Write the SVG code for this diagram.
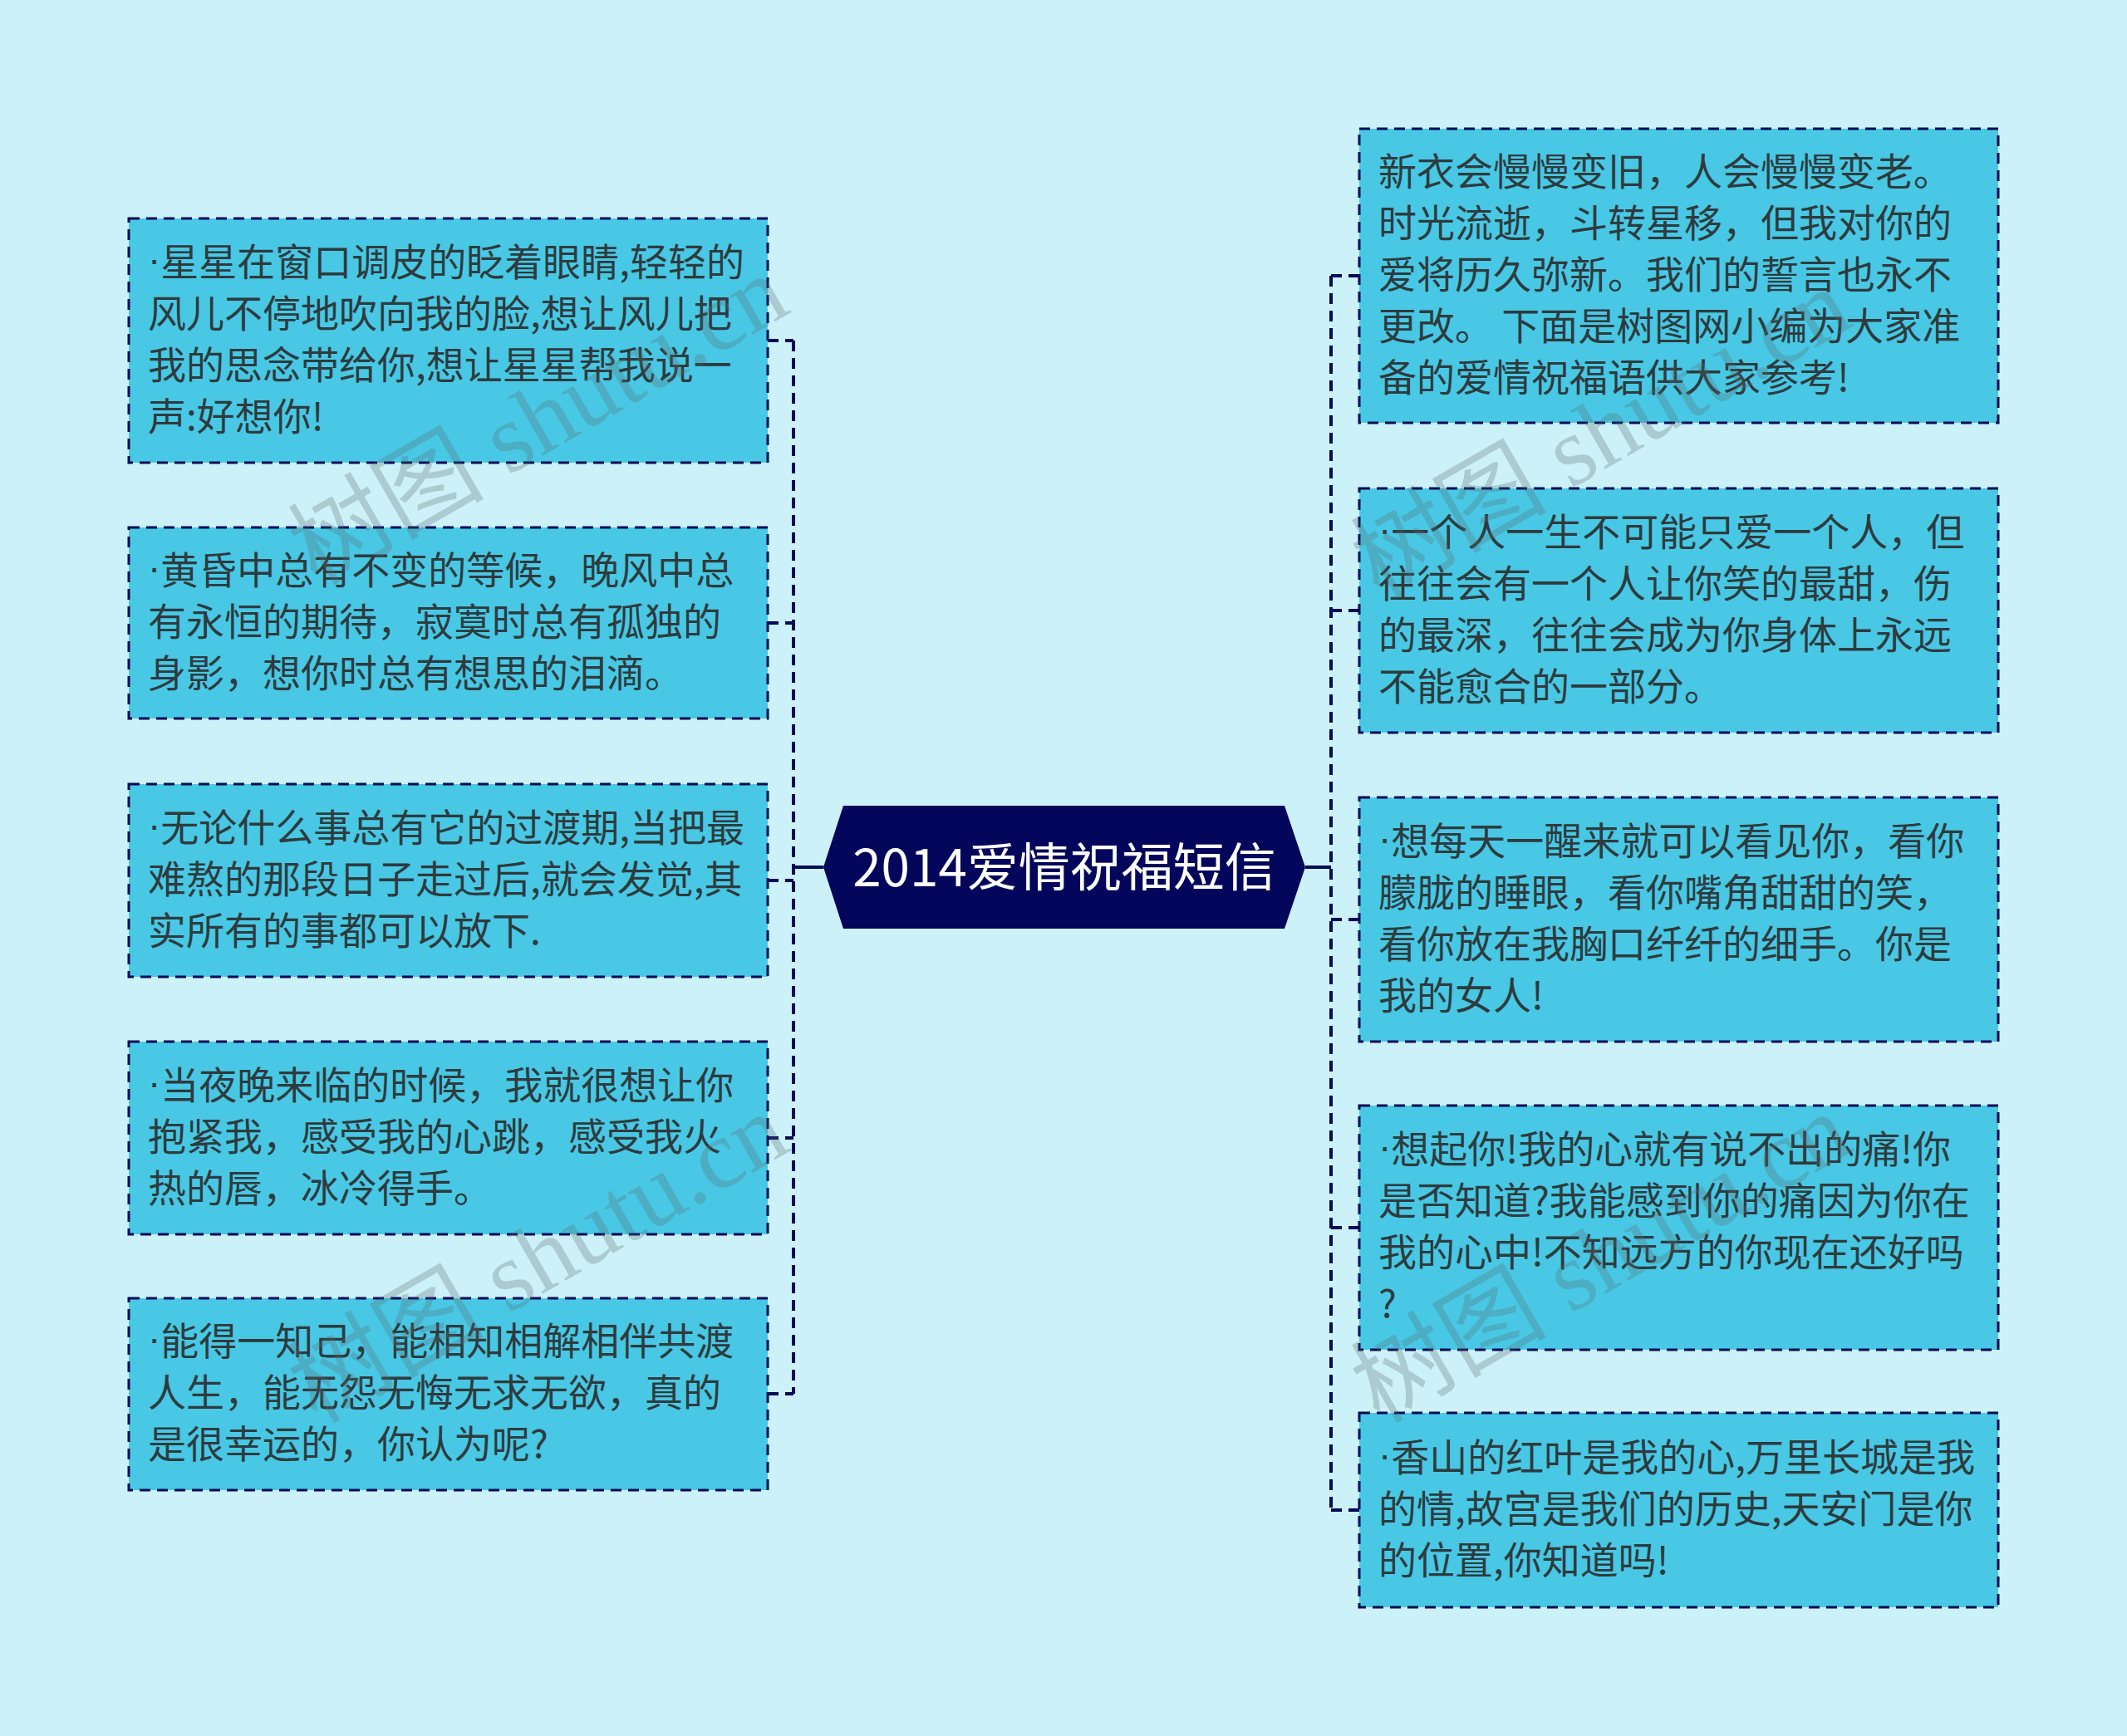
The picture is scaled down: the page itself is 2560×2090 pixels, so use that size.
<svg xmlns="http://www.w3.org/2000/svg" width="2560" height="2090" viewBox="0 0 2560 2090">
<style>
.bg{fill:#CCF1F8}
.box{fill:#48C8E4;stroke:#000B57;stroke-width:3;stroke-dasharray:13 8}
.t{font-family:"Noto Sans CJK SC","Noto Sans",sans-serif;font-size:46px;fill:#2E3B3E;dominant-baseline:central}
.d{font-family:"Liberation Sans",sans-serif}
.c{fill:none;stroke:#000B57;stroke-width:4;stroke-dasharray:13 8}
.s{fill:none;stroke:#000B57;stroke-width:4}
.wm{font-family:"Liberation Serif","Noto Sans CJK SC",serif;font-size:118px;fill:#5a6a70;opacity:0.28}
</style>
<rect class="bg" x="0" y="0" width="2560" height="2090"/>
<g id="connectors">
<path class="c" d="M955 410 V1678"/>
<path class="c" d="M924 410 H955 M924 750 H955 M924 1060 H955 M924 1370 H955 M924 1678 H955"/>
<path class="s" d="M955 1044 H991"/>
<path class="c" d="M1602 332 V1818"/>
<path class="c" d="M1602 332 H1636 M1602 735 H1636 M1602 1107 H1636 M1602 1478 H1636 M1602 1818 H1636"/>
<path class="s" d="M1571 1044 H1602"/>
</g>
<g id="center">
<polygon points="991,1044 1015,970 1546,970 1571,1044 1546,1118 1015,1118" fill="#03065A"/>
<text x="1281" y="1040" text-anchor="middle" font-family="Noto Sans CJK SC,Noto Sans,sans-serif" font-size="62" fill="#FFFFFF" dominant-baseline="central">2014爱情祝福短信</text>
</g>
<g id="l1">
<rect class="box" x="155" y="263" width="769" height="294"/>
<text class="t" x="178" y="312"><tspan class="d">·</tspan>星星在窗口调皮的眨着眼睛,轻轻的</text>
<text class="t" x="178" y="374">风儿不停地吹向我的脸,想让风儿把</text>
<text class="t" x="178" y="436">我的思念带给你,想让星星帮我说一</text>
<text class="t" x="178" y="498">声:好想你!</text>
</g>
<g id="l2">
<rect class="box" x="155" y="635" width="769" height="230"/>
<text class="t" x="178" y="683"><tspan class="d">·</tspan>黄昏中总有不变的等候，晚风中总</text>
<text class="t" x="178" y="745">有永恒的期待，寂寞时总有孤独的</text>
<text class="t" x="178" y="807">身影，想你时总有想思的泪滴。</text>
</g>
<g id="l3">
<rect class="box" x="155" y="944" width="769" height="232"/>
<text class="t" x="178" y="993"><tspan class="d">·</tspan>无论什么事总有它的过渡期,当把最</text>
<text class="t" x="178" y="1055">难熬的那段日子走过后,就会发觉,其</text>
<text class="t" x="178" y="1117">实所有的事都可以放下.</text>
</g>
<g id="l4">
<rect class="box" x="155" y="1254" width="769" height="232"/>
<text class="t" x="178" y="1303"><tspan class="d">·</tspan>当夜晚来临的时候，我就很想让你</text>
<text class="t" x="178" y="1365">抱紧我，感受我的心跳，感受我火</text>
<text class="t" x="178" y="1427">热的唇，冰冷得手。</text>
</g>
<g id="l5">
<rect class="box" x="155" y="1563" width="769" height="231"/>
<text class="t" x="178" y="1611"><tspan class="d">·</tspan>能得一知己，能相知相解相伴共渡</text>
<text class="t" x="178" y="1673">人生，能无怨无悔无求无欲，真的</text>
<text class="t" x="178" y="1735">是很幸运的，你认为呢?</text>
</g>
<g id="r1">
<rect class="box" x="1636" y="155" width="769" height="354"/>
<text class="t" x="1659" y="203">新衣会慢慢变旧，人会慢慢变老。</text>
<text class="t" x="1659" y="265">时光流逝，斗转星移，但我对你的</text>
<text class="t" x="1659" y="327">爱将历久弥新。我们的誓言也永不</text>
<text class="t" x="1659" y="389">更改。 下面是树图网小编为大家准</text>
<text class="t" x="1659" y="451">备的爱情祝福语供大家参考!</text>
</g>
<g id="r2">
<rect class="box" x="1636" y="588" width="769" height="294"/>
<text class="t" x="1659" y="637"><tspan class="d">·</tspan>一个人一生不可能只爱一个人，但</text>
<text class="t" x="1659" y="699">往往会有一个人让你笑的最甜，伤</text>
<text class="t" x="1659" y="761">的最深，往往会成为你身体上永远</text>
<text class="t" x="1659" y="823">不能愈合的一部分。</text>
</g>
<g id="r3">
<rect class="box" x="1636" y="960" width="769" height="294"/>
<text class="t" x="1659" y="1009"><tspan class="d">·</tspan>想每天一醒来就可以看见你，看你</text>
<text class="t" x="1659" y="1071">朦胧的睡眼，看你嘴角甜甜的笑，</text>
<text class="t" x="1659" y="1133">看你放在我胸口纤纤的细手。你是</text>
<text class="t" x="1659" y="1195">我的女人!</text>
</g>
<g id="r4">
<rect class="box" x="1636" y="1331" width="769" height="294"/>
<text class="t" x="1659" y="1380"><tspan class="d">·</tspan>想起你!我的心就有说不出的痛!你</text>
<text class="t" x="1659" y="1442">是否知道?我能感到你的痛因为你在</text>
<text class="t" x="1659" y="1504">我的心中!不知远方的你现在还好吗</text>
<text class="t" x="1659" y="1566">?</text>
</g>
<g id="r5">
<rect class="box" x="1636" y="1701" width="769" height="234"/>
<text class="t" x="1659" y="1751"><tspan class="d">·</tspan>香山的红叶是我的心,万里长城是我</text>
<text class="t" x="1659" y="1813">的情,故宫是我们的历史,天安门是你</text>
<text class="t" x="1659" y="1875">的位置,你知道吗!</text>
</g>
<g id="watermarks">
<text class="wm" transform="translate(648,506) rotate(-30)" text-anchor="middle" dominant-baseline="central">树图 shutu.cn</text>
<text class="wm" transform="translate(648,1515) rotate(-30)" text-anchor="middle" dominant-baseline="central">树图 shutu.cn</text>
<text class="wm" transform="translate(1927,522) rotate(-30)" text-anchor="middle" dominant-baseline="central">树图 shutu.cn</text>
<text class="wm" transform="translate(1927,1515) rotate(-30)" text-anchor="middle" dominant-baseline="central">树图 shutu.cn</text>
</g>
</svg>
